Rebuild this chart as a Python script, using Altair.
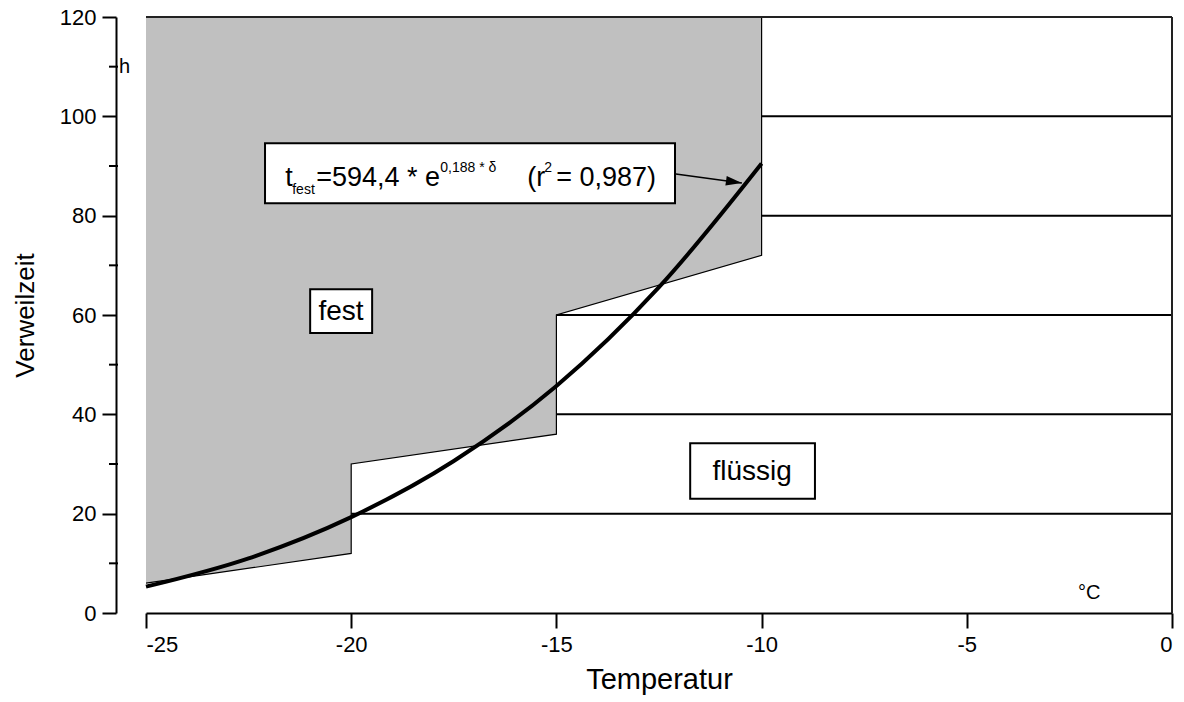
import altair as alt
import pandas as pd

# ---------------- data ----------------
curve_temp = [-25, -22.5, -20, -17.5, -15, -12.5, -10]
curve_time = [5.3, 11.0, 19.3, 30.6, 45.7, 65.6, 90.5]

# lower border of the "fest" region, three sloped pieces
fest_seg = [0, 0, 1, 1, 2, 2]
fest_temp = [-25, -20, -20, -15, -15, -10]
fest_low = [6, 12, 30, 36, 60, 72]
fest_top = 120

line_time = [20, 40, 60, 80, 100]
line_start = [-20, -15, -15, -10, -10]

x_ticks = [-25, -20, -15, -10, -5, 0]
y_ticks = [0, 20, 40, 60, 80, 100, 120]
y_minor = [10, 30, 50, 70, 90, 110]

# annotation boxes (data units)
box_x1 = [-22.10, -21.00, -11.74]
box_x2 = [-12.11, -19.49, -8.70]
box_y1 = [94.6, 65.2, 34.2]
box_y2 = [82.5, 56.4, 23.0]

label_text = ["fest", "flüssig"]
label_temp = [-20.25, -10.23]
label_time = [60.8, 28.6]

eq_temp, eq_time = -17.1, 88.6
arrow_temp = [-12.09, -10.48]
arrow_time = [88.4, 86.6]

FONT = "Liberation Sans"
GRAY = "#c0c0c0"
X = alt.Scale(domain=[-25, 0], nice=False, zero=False)
Y = alt.Scale(domain=[0, 120], nice=False, zero=False)

region = pd.DataFrame({"seg": fest_seg, "t": fest_temp, "lo": fest_low,
                       "hi": [fest_top] * len(fest_temp)})
seams = pd.DataFrame({"t": [fest_temp[2], fest_temp[4]], "v1": [fest_low[2], fest_low[4]],
                      "v2": [fest_top, fest_top]})
edge = pd.DataFrame({"t": fest_temp + [fest_temp[-1]], "v": fest_low + [fest_top],
                     "o": list(range(len(fest_temp) + 1))})
hlines = pd.DataFrame({"t1": line_start, "t2": [0] * len(line_start), "v": line_time})
frame_h = pd.DataFrame({"t1": [-25], "t2": [0], "v": [120]})
frame_v = pd.DataFrame({"t": [0], "v1": [0], "v2": [120]})
curve = pd.DataFrame({"t": curve_temp, "v": curve_time})
boxes = pd.DataFrame({"x1": box_x1, "x2": box_x2, "y1": box_y1, "y2": box_y2})
labels = pd.DataFrame({"t": label_temp, "v": label_time, "s": label_text})
eq = pd.DataFrame({"t": [eq_temp], "v": [eq_time]})
arrow = pd.DataFrame({"t": arrow_temp, "v": arrow_time})
corner = pd.DataFrame({"t": [-25.52, -2.02], "v": [109.9, 4.0], "s": ["h", "°C"]})
minor_df = pd.DataFrame({"v": y_minor})

x_axis = alt.Axis(values=x_ticks, labelExpr="'' + datum.value", title="Temperatur",
                  tickSize=15, labelPadding=6, titlePadding=10, titleFontSize=29, grid=False)
y_axis = alt.Axis(values=y_ticks, labelExpr="'' + datum.value", title="Verweilzeit",
                  tickSize=14, offset=30, labelPadding=6, titlePadding=21, titleFontSize=26,
                  grid=False)

area = alt.Chart(region).mark_area(color=GRAY, opacity=1).encode(
    x=alt.X("t:Q", scale=X, axis=x_axis),
    y=alt.Y("lo:Q", scale=Y, axis=y_axis),
    y2="hi:Q",
    detail="seg:N",
)
seam_rules = alt.Chart(seams).mark_rule(color=GRAY, strokeWidth=2).encode(
    x=alt.X("t:Q", scale=X), y=alt.Y("v1:Q", scale=Y), y2="v2:Q")

minor = alt.Chart(minor_df).mark_rule(color="black", strokeWidth=2).encode(
    y=alt.Y("v:Q", scale=Y), x=alt.value(-37), x2=alt.value(-28))

edge_line = alt.Chart(edge).mark_line(color="black", strokeWidth=1.2).encode(
    x=alt.X("t:Q", scale=X), y=alt.Y("v:Q", scale=Y), order="o:Q")

h_rules = alt.Chart(hlines).mark_rule(color="black", strokeWidth=2).encode(
    x=alt.X("t1:Q", scale=X), x2="t2:Q", y=alt.Y("v:Q", scale=Y))

top_rule = alt.Chart(frame_h).mark_rule(color="#222", strokeWidth=2).encode(
    x=alt.X("t1:Q", scale=X), x2="t2:Q", y=alt.Y("v:Q", scale=Y))
right_rule = alt.Chart(frame_v).mark_rule(color="#222", strokeWidth=2).encode(
    x=alt.X("t:Q", scale=X), y=alt.Y("v1:Q", scale=Y), y2="v2:Q")

curve_line = alt.Chart(curve).mark_line(color="black", strokeWidth=4, interpolate="monotone").encode(
    x=alt.X("t:Q", scale=X), y=alt.Y("v:Q", scale=Y))

box_marks = alt.Chart(boxes).mark_rect(fill="white", stroke="black", strokeWidth=2).encode(
    x=alt.X("x1:Q", scale=X), x2="x2:Q", y=alt.Y("y1:Q", scale=Y), y2="y2:Q")

label_marks = alt.Chart(labels).mark_text(font=FONT, fontSize=28, color="black",
                                          baseline="middle", dy=1).encode(
    x=alt.X("t:Q", scale=X), y=alt.Y("v:Q", scale=Y), text="s:N")


def seg(txt, dx, dy, size):
    return alt.Chart(eq).mark_text(font=FONT, fontSize=size, color="black", align="left",
                                   baseline="alphabetic", dx=dx, dy=dy, text=txt).encode(
        x=alt.X("t:Q", scale=X), y=alt.Y("v:Q", scale=Y))


eq_marks = [
    seg("t", -185, 13, 27),
    seg("fest", -178, 21, 14),
    seg("=594,4 * e", -154, 13, 27),
    seg("0,188 * δ", -30, -1, 14),
    seg("(r", 57, 13, 27),
    seg("2", 74, -1, 14),
    seg("= 0,987)", 86, 13, 27),
]

arrow_line = alt.Chart(arrow).mark_line(color="black", strokeWidth=1.5).encode(
    x=alt.X("t:Q", scale=X), y=alt.Y("v:Q", scale=Y))
arrow_head = alt.Chart(arrow.iloc[[1]]).mark_point(
    shape="M0,0L-2,-0.6L-2,0.6Z", size=256, filled=True, color="black", opacity=1, angle=8).encode(
    x=alt.X("t:Q", scale=X), y=alt.Y("v:Q", scale=Y))

corner_marks = alt.Chart(corner).mark_text(font=FONT, fontSize=20, color="black",
                                           baseline="middle").encode(
    x=alt.X("t:Q", scale=X), y=alt.Y("v:Q", scale=Y), text="s:N")

chart = alt.layer(
    area, seam_rules, minor, edge_line, h_rules, top_rule, right_rule, curve_line, box_marks,
    label_marks, *eq_marks, arrow_line, arrow_head, corner_marks,
).properties(
    width=1026, height=596,
    background="white",
    autosize=alt.AutoSizeParams(type="none"),
    padding={"left": 146, "top": 17, "right": 12, "bottom": 89},
).configure_view(stroke=None).configure_axis(
    domainColor="black", domainWidth=2, tickColor="black", tickWidth=2,
    labelFont=FONT, labelFontSize=22, labelColor="black",
    titleFont=FONT, titleColor="black", titleFontWeight="normal",
)

chart.save("out.html", embed_options={"renderer": "svg", "actions": False})
